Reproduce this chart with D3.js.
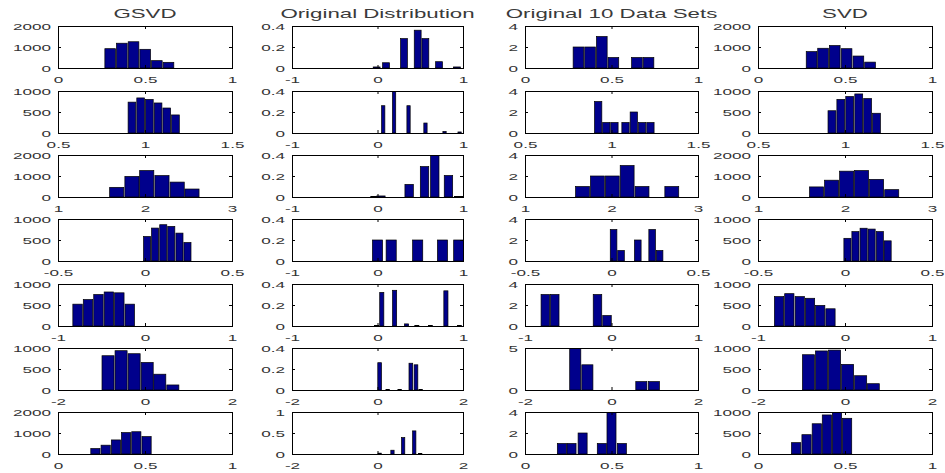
<!DOCTYPE html>
<html>
<head>
<meta charset="utf-8">
<script src="https://cdn.jsdelivr.net/npm/d3@7"></script>
<style>
  body { margin: 0; background: #fff; }
  text { font-family: "Liberation Sans", Arial, sans-serif; }
</style>
</head>
<body>
<div id="chart"></div>
<script>
// column titles
var columnTitles = ["GSVD", "Original Distribution", "Original 10 Data Sets", "SVD"];

// x axis limits and tick labels, one entry per row, one per column
var xDomains = [
  [[0, 1], [-1, 1], [0, 1], [0, 1]],
  [[0.5, 1.5], [-1, 1], [0.5, 1.5], [0.5, 1.5]],
  [[1, 3], [-1, 1], [1, 3], [1, 3]],
  [[-0.5, 0.5], [-1, 1], [-0.5, 0.5], [-0.5, 0.5]],
  [[-1, 1], [-1, 1], [-1, 1], [-1, 1]],
  [[-2, 2], [-2, 2], [-2, 2], [-2, 2]],
  [[0, 1], [-2, 2], [0, 1], [0, 1]]
];
var xTicks = [
  [[0, 0.5, 1], [-1, 0, 1], [0, 0.5, 1], [0, 0.5, 1]],
  [[0.5, 1, 1.5], [-1, 0, 1], [0.5, 1, 1.5], [0.5, 1, 1.5]],
  [[1, 2, 3], [-1, 0, 1], [1, 2, 3], [1, 2, 3]],
  [[-0.5, 0, 0.5], [-1, 0, 1], [-0.5, 0, 0.5], [-0.5, 0, 0.5]],
  [[-1, 0, 1], [-1, 0, 1], [-1, 0, 1], [-1, 0, 1]],
  [[-2, 0, 2], [-2, 0, 2], [-2, 0, 2], [-2, 0, 2]],
  [[0, 0.5, 1], [-2, 0, 2], [0, 0.5, 1], [0, 0.5, 1]]
];
// y ticks (last one is the top of the axis)
var yTicks = [
  [[0, 1000, 2000], [0, 0.2, 0.4], [0, 2, 4], [0, 1000, 2000]],
  [[0, 500, 1000], [0, 0.2, 0.4], [0, 2, 4], [0, 500, 1000]],
  [[0, 1000, 2000], [0, 0.2, 0.4], [0, 2, 4], [0, 1000, 2000]],
  [[0, 500, 1000], [0, 0.2, 0.4], [0, 2, 4], [0, 500, 1000]],
  [[0, 500, 1000], [0, 0.2, 0.4], [0, 2, 4], [0, 500, 1000]],
  [[0, 500, 1000], [0, 0.2, 0.4], [0, 5], [0, 500, 1000]],
  [[0, 1000, 2000], [0, 0.5, 1], [0, 2, 4], [0, 500, 1000]]
];

// GSVD histograms
var gsvdCenters = [
  [0.300, 0.367, 0.434, 0.501, 0.568, 0.635],
  [0.925, 0.975, 1.025, 1.075, 1.125, 1.175],
  [1.675, 1.850, 2.020, 2.195, 2.370, 2.540],
  [0.012, 0.058, 0.105, 0.151, 0.198, 0.244],
  [-0.775, -0.655, -0.535, -0.415, -0.295, -0.175],
  [-0.85, -0.55, -0.25, 0.05, 0.34, 0.64],
  [0.215, 0.274, 0.333, 0.391, 0.450, 0.509]
];
var gsvdCounts = [
  [920, 1180, 1250, 890, 350, 270],
  [735, 835, 800, 715, 595, 430],
  [460, 980, 1260, 1020, 710, 380],
  [584, 784, 864, 824, 664, 440],
  [520, 630, 750, 810, 790, 520],
  [816, 936, 864, 656, 376, 120],
  [260, 420, 670, 1020, 1060, 830]
];
var gsvdBins = [0.067, 0.05, 0.174, 0.0465, 0.12, 0.3, 0.0587];

// original distribution (relative frequencies)
var origCenters = [
  [-0.01, 0.10, 0.31, 0.47, 0.56, 0.72, 0.93],
  [0.067, 0.194, 0.363, 0.561, 0.784, 0.96],
  [-0.03, 0.04, 0.37, 0.55, 0.67, 0.83, 0.95],
  [0.0, 0.16, 0.47, 0.76, 0.95],
  [-0.01, 0.05, 0.2, 0.34, 0.46, 0.62, 0.80, 0.96],
  [0.05, 0.24, 0.52, 0.78, 0.9, 1.01],
  [0.05, 0.35, 0.6, 0.86, 1.0]
];
var origFreq = [
  [0.01, 0.05, 0.28, 0.36, 0.28, 0.06, 0.01],
  [0.26, 0.40, 0.26, 0.095, 0.015, 0.01],
  [0.005, 0.01, 0.12, 0.29, 0.40, 0.205, 0.005],
  [0.2, 0.2, 0.2, 0.2, 0.2],
  [0.005, 0.32, 0.34, 0.02, 0.005, 0.005, 0.335, 0.005],
  [0.26, 0.005, 0.005, 0.255, 0.24, 0.005],
  [0.02, 0.09, 0.39, 0.55, 0.01]
];
var origBins = [0.092, 0.05, 0.11, 0.13, 0.06, 0.11, 0.1];

// the 10 sampled data sets
var dataCenters = [
  [0.309, 0.376, 0.444, 0.511, 0.647, 0.714],
  [0.923, 0.970, 1.017, 1.081, 1.129, 1.177, 1.225],
  [1.665, 1.837, 2.009, 2.181, 2.353, 2.697],
  [0.012, 0.055, 0.152, 0.235, 0.278],
  [-0.765, -0.656, -0.162, -0.052],
  [-0.838, -0.558, 0.69, 0.98],
  [0.213, 0.269, 0.333, 0.444, 0.5, 0.56]
];
var dataCounts = [
  [2, 2, 3, 1, 1, 1],
  [3, 1, 1, 1, 2, 1, 1],
  [1, 2, 2, 3, 1, 1],
  [3, 1, 2, 3, 1],
  [3, 3, 3, 1],
  [5, 3, 1, 1],
  [1, 1, 2, 1, 4, 1]
];
var dataBins = [0.0673, 0.048, 0.172, 0.044, 0.11, 0.28, 0.058];

// SVD histograms
var svdCenters = [
  [0.308, 0.374, 0.441, 0.509, 0.577, 0.644],
  [0.925, 0.976, 1.027, 1.079, 1.130, 1.181],
  [1.673, 1.846, 2.019, 2.190, 2.363, 2.537],
  [0.014, 0.060, 0.107, 0.153, 0.200, 0.245],
  [-0.758, -0.640, -0.520, -0.402, -0.285, -0.167],
  [-0.84, -0.54, -0.24, 0.06, 0.36, 0.65],
  [0.219, 0.279, 0.338, 0.396, 0.454, 0.512]
];
var svdCounts = [
  [780, 940, 1070, 920, 570, 280],
  [530, 800, 870, 930, 820, 470],
  [480, 800, 1230, 1260, 840, 350],
  [540, 700, 780, 760, 700, 480],
  [700, 770, 700, 660, 490, 410],
  [840, 930, 950, 610, 340, 150],
  [270, 460, 720, 930, 995, 850]
];
var svdBins = [0.0673, 0.051, 0.173, 0.0465, 0.118, 0.3, 0.059];

var centers = [gsvdCenters, origCenters, dataCenters, svdCenters];
var heights = [gsvdCounts, origFreq, dataCounts, svdCounts];
var bins = [gsvdBins, origBins, dataBins, svdBins];

// layout of the subplot grid
var colLeft = [58, 292, 525, 758];
var colWidth = [174, 171, 173, 174];
var rowTop = [26, 91, 155, 219, 284, 348, 412];
var panelHeight = 42;
var stretch = 1.8;      // the picture's text is wide, so labels are stretched sideways
var barFill = "#00008c";

var svg = d3.select("#chart").append("svg")
    .attr("width", 945)
    .attr("height", 473);

svg.append("rect")
    .attr("width", 945).attr("height", 473)
    .attr("fill", "#fff");

var fmt = function(v) { return String(v); };

columnTitles.forEach(function(title, c) {
  var w = colWidth[c];

  svg.append("text")
      .text(title)
      .attr("transform", "translate(" + (colLeft[c] + w / 2) + ",18) scale(1.65,1)")
      .attr("text-anchor", "middle")
      .style("font-size", "13.5px")
      .attr("fill", "#3a3a3a");

  rowTop.forEach(function(top, r) {
    var h = panelHeight;
    var g = svg.append("g")
        .attr("transform", "translate(" + colLeft[c] + "," + top + ")");

    var x = d3.scaleLinear().domain(xDomains[r][c]).range([0, w]);
    var y = d3.scaleLinear().domain([0, d3.max(yTicks[r][c])]).range([h, 0]);

    var clipId = "clip-" + r + "-" + c;
    g.append("clipPath").attr("id", clipId)
      .append("rect").attr("width", w).attr("height", h);

    var binW = bins[c][r];
    var binData = centers[c][r].map(function(v, i) { return { x: v, n: heights[c][r][i] }; });

    g.append("g")
        .attr("clip-path", "url(#" + clipId + ")")
      .selectAll("rect")
      .data(binData)
      .join("rect")
        .attr("x", function(d) { return x(d.x - binW / 2) + 0.5; })
        .attr("width", function(d) { return Math.max(x(d.x + binW / 2) - x(d.x - binW / 2) - 1, 1); })
        .attr("y", function(d) { return y(d.n); })
        .attr("height", function(d) { return h - y(d.n); })
        .attr("fill", barFill)
        .attr("stroke", "#000")
        .attr("stroke-width", 0.7);

    // bottom axis with labels
    g.append("g")
        .attr("transform", "translate(0," + h + ")")
        .call(d3.axisBottom(x).tickValues(xTicks[r][c]).tickFormat(fmt)
            .tickSize(-3).tickSizeOuter(0).tickPadding(8))
        .call(styleAxis);

    // left axis with labels
    g.append("g")
        .call(d3.axisLeft(y).tickValues(yTicks[r][c]).tickFormat(fmt)
            .tickSize(-3).tickSizeOuter(0).tickPadding(7 / stretch))
        .call(styleAxis);

    // mirrored ticks on top and right, no labels
    g.append("g")
        .call(d3.axisTop(x).tickValues(xTicks[r][c]).tickFormat("")
            .tickSize(-3).tickSizeOuter(0))
        .call(styleAxis);
    g.append("g")
        .attr("transform", "translate(" + w + ",0)")
        .call(d3.axisRight(y).tickValues(yTicks[r][c]).tickFormat("")
            .tickSize(-3).tickSizeOuter(0))
        .call(styleAxis);

    // the box
    g.append("rect")
        .attr("x", 0.5).attr("y", 0.5)
        .attr("width", w).attr("height", h)
        .attr("fill", "none")
        .attr("stroke", "#000")
        .attr("stroke-width", 1);
  });
});

function styleAxis(a) {
  a.select(".domain").remove();
  a.attr("font-family", null).attr("font-size", null);
  a.selectAll("line").attr("stroke", "#000");
  a.selectAll("text")
      .attr("transform", "scale(" + stretch + ",1)")
      .style("font-size", "9.5px")
      .attr("fill", "#333");
}
</script>
</body>
</html>
